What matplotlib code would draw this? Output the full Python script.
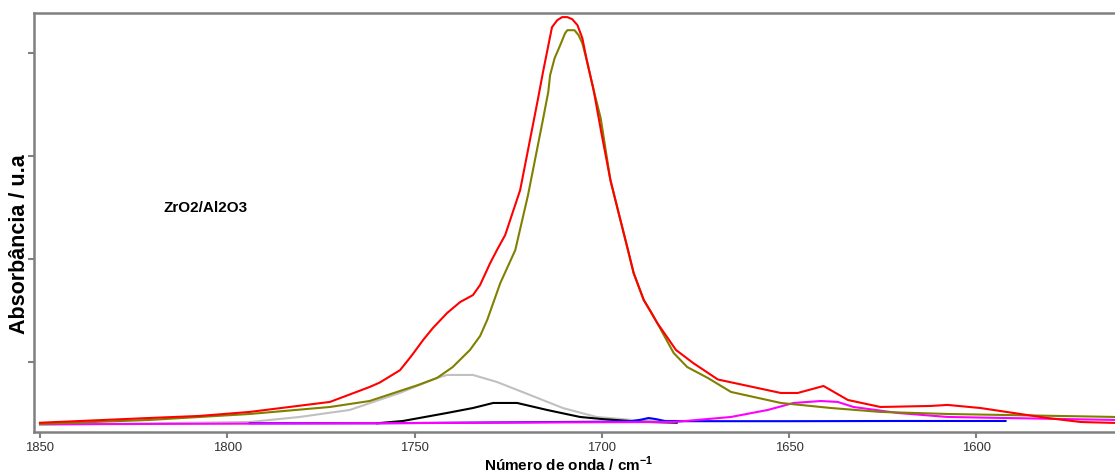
import matplotlib
matplotlib.use("Agg")
import matplotlib.pyplot as plt

plt.rcParams['font.family'] = ['Liberation Sans', 'DejaVu Sans']
plt.rcParams['mathtext.fontset'] = 'custom'
plt.rcParams['mathtext.rm'] = 'Liberation Sans'
plt.rcParams['mathtext.bf'] = 'Liberation Sans:bold'

# ---- data (wavenumber cm-1, absorbance a.u.) ----
red_x = [1850, 1820.8, 1807.4, 1794.0, 1772.6, 1762.0, 1759.3, 1753.9, 1751.7, 1750.4,
         1747.7, 1745.1, 1741.3, 1737.8, 1734.4, 1732.5, 1729.8, 1728.0, 1725.8, 1721.8,
         1718.3, 1717.0, 1715.7, 1713.3, 1711.9, 1710.6, 1709.2, 1707.9, 1706.5, 1705.2,
         1703.9, 1702.3, 1701.7, 1700.1, 1697.7, 1695.5, 1693.2, 1691.5, 1688.8, 1685.2,
         1680.2, 1675.6, 1669.0, 1652.2, 1647.7, 1640.8, 1634.3, 1625.6, 1612.2, 1607.7,
         1598.9, 1590.1, 1581.0, 1572.1, 1562.8]
red_y = [0.41, 0.456, 0.476, 0.515, 0.612, 0.757, 0.80, 0.92, 1.019, 1.08,
         1.214, 1.330, 1.476, 1.583, 1.650, 1.748, 1.961, 2.087, 2.233, 2.670,
         3.320, 3.563, 3.816, 4.252, 4.320, 4.350, 4.350, 4.330, 4.272, 4.146,
         3.913, 3.660, 3.544, 3.223, 2.767, 2.447, 2.117, 1.864, 1.602, 1.38,
         1.117, 0.990, 0.83, 0.699, 0.699, 0.767, 0.631, 0.563, 0.573, 0.583,
         0.553, 0.505, 0.456, 0.417, 0.408]

olive_x = [1850, 1820.8, 1794.0, 1772.6, 1762.0, 1749.0, 1744.0, 1739.8, 1735.2, 1732.5,
           1730.6, 1727.1, 1723.1, 1719.7, 1715.9, 1714.3, 1713.8, 1712.6, 1711.1, 1709.8,
           1709.2, 1707.3, 1706.2, 1705.2, 1703.9, 1702.3, 1700.3, 1697.7, 1691.5, 1688.8,
           1686.9, 1680.8, 1677.2, 1671.7, 1665.5, 1652.2, 1638.8, 1625.6, 1607.7, 1562.8]
olive_y = [0.398, 0.437, 0.495, 0.563, 0.621, 0.777, 0.845, 0.951, 1.117, 1.252,
           1.408, 1.767, 2.087, 2.621, 3.320, 3.621, 3.786, 3.951, 4.078, 4.194,
           4.223, 4.223, 4.175, 4.097, 3.913, 3.660, 3.369, 2.767, 1.864, 1.602,
           1.49, 1.087, 0.951, 0.845, 0.709, 0.602, 0.553, 0.515, 0.495, 0.466]

gray_x = [1850, 1794.0, 1780.7, 1767.3, 1753.9, 1744.0, 1741.3, 1737.0, 1734.4, 1728.0,
          1719.2, 1710.4, 1701.4, 1691.8, 1679.3]
gray_y = [0.39, 0.417, 0.466, 0.534, 0.70, 0.845, 0.874, 0.874, 0.874, 0.806,
          0.680, 0.553, 0.466, 0.437, 0.427]

black_x = [1760, 1753.1, 1741.3, 1734.4, 1729.0, 1722.6, 1714.6, 1705.8, 1700.3, 1690, 1680]
black_y = [0.405, 0.427, 0.505, 0.553, 0.602, 0.602, 0.534, 0.466, 0.447, 0.42, 0.41]

magenta_x = [1850, 1760, 1700, 1680.8, 1665.5, 1655.7, 1648.8, 1641.5, 1637.0, 1632.8,
             1621.0, 1607.7, 1562.8]
magenta_y = [0.395, 0.405, 0.415, 0.417, 0.466, 0.534, 0.602, 0.621, 0.612, 0.563,
             0.505, 0.466, 0.437]

blue_x = [1794, 1760, 1700, 1692, 1689.5, 1687.5, 1685.5, 1683, 1650, 1620, 1592.2]
blue_y = [0.405, 0.405, 0.42, 0.425, 0.44, 0.456, 0.445, 0.425, 0.425, 0.427, 0.427]

x_ticks = [1850, 1800, 1750, 1700, 1650, 1600]
y_ticks = [1, 2, 3, 4]

W, H = 1115, 472
fig = plt.figure(figsize=(W / 100, H / 100), dpi=100)
ax = fig.add_axes([34 / W, 40 / H, 1 - 34 / W + 0.01, 419 / H])

lw = 1.5
ax.plot(gray_x, gray_y, color='#c0c0c0', lw=lw)
ax.plot(black_x, black_y, color='black', lw=lw)
ax.plot(blue_x, blue_y, color='#0000ff', lw=lw)
ax.plot(magenta_x, magenta_y, color='#ff00ff', lw=lw)
ax.plot(olive_x, olive_y, color='#808000', lw=lw)
ax.plot(red_x, red_y, color='#ff0000', lw=lw)

ax.set_xlim(1851.6, 1560.0)
ax.set_ylim(0.32, 4.39)
ax.set_xticks(x_ticks)
ax.set_xticklabels([str(v) for v in x_ticks])
ax.set_yticks(y_ticks)
ax.set_yticklabels([])

for s in ['left', 'bottom', 'top']:
    ax.spines[s].set_color('#808080')
    ax.spines[s].set_linewidth(1.8)
ax.spines['right'].set_visible(False)
ax.tick_params(axis='both', colors='#808080', length=4, width=1.5, direction='out')
ax.tick_params(axis='x', labelcolor='#333333', labelsize=9.4, pad=3)

fig.text(20 / W, 1 - 244 / H, 'Absorbância / u.a', fontsize=15.5, fontweight='bold',
         rotation=90, ha='center', va='center')
fig.text(568.5 / W, 1.5 / H, 'Número de onda / cm$^{\\mathbf{-1}}$', fontsize=11,
         fontweight='bold', ha='center', va='baseline')

ax.text(1817, 2.5, 'ZrO2/Al2O3', fontsize=11, fontweight='bold', ha='left', va='center')

fig.savefig('out.png', dpi=100)
